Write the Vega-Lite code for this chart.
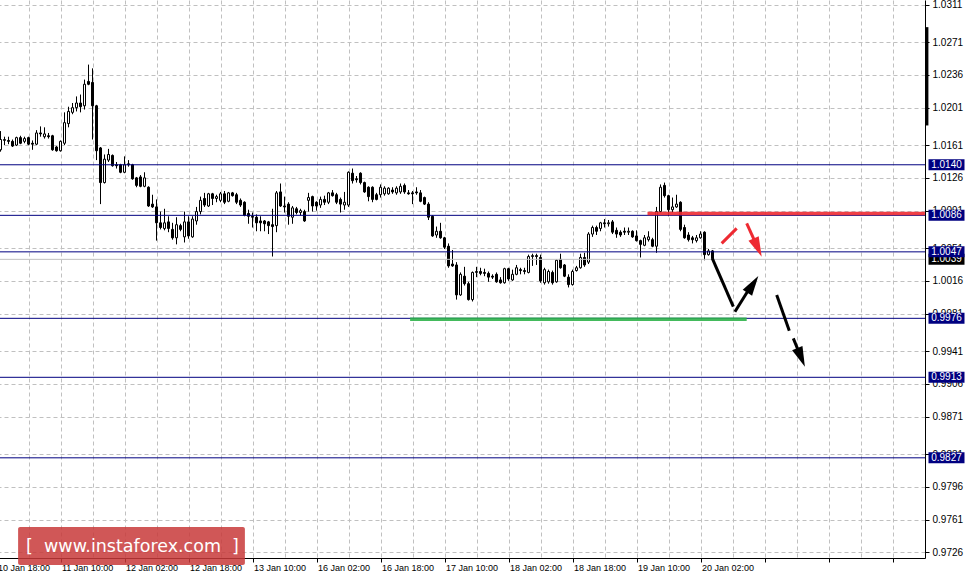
{
 "$schema": "https://vega.github.io/schema/vega-lite/v6.json",
 "width": 929,
 "height": 558,
 "autosize": {"type": "none"},
 "padding": {"left": -4, "top": 0, "right": 44, "bottom": 21},
 "background": "white",
 "config": {"view": {"stroke": null}, "font": "Liberation Sans"},
 "resolve": {"scale": {"color": "independent"}},
 "datasets": {
  "bars": [
   {"i":1,"o":1.0156,"c":1.0167,"h":1.0176,"l":1.0154},
   {"i":2,"o":1.0166,"c":1.0167,"h":1.0170,"l":1.0161},
   {"i":3,"o":1.0166,"c":1.0165,"h":1.0170,"l":1.0162},
   {"i":4,"o":1.0165,"c":1.0160,"h":1.0167,"l":1.0159},
   {"i":5,"o":1.0161,"c":1.0169,"h":1.0170,"l":1.0160},
   {"i":6,"o":1.0169,"c":1.0163,"h":1.0171,"l":1.0162},
   {"i":7,"o":1.0165,"c":1.0168,"h":1.0170,"l":1.0163},
   {"i":8,"o":1.0169,"c":1.0162,"h":1.0170,"l":1.0161},
   {"i":9,"o":1.0163,"c":1.0162,"h":1.0166,"l":1.0156},
   {"i":10,"o":1.0162,"c":1.0174,"h":1.0177,"l":1.0161},
   {"i":11,"o":1.0174,"c":1.0173,"h":1.0181,"l":1.0170},
   {"i":12,"o":1.0170,"c":1.0173,"h":1.0180,"l":1.0168},
   {"i":13,"o":1.0171,"c":1.0170,"h":1.0174,"l":1.0168},
   {"i":14,"o":1.0171,"c":1.0156,"h":1.0172,"l":1.0155},
   {"i":15,"o":1.0159,"c":1.0155,"h":1.0160,"l":1.0154},
   {"i":16,"o":1.0155,"c":1.0165,"h":1.0166,"l":1.0154},
   {"i":17,"o":1.0163,"c":1.0185,"h":1.0196,"l":1.0161},
   {"i":18,"o":1.0184,"c":1.0197,"h":1.0202,"l":1.0180},
   {"i":19,"o":1.0196,"c":1.0201,"h":1.0206,"l":1.0194},
   {"i":20,"o":1.0201,"c":1.0206,"h":1.0213,"l":1.0197},
   {"i":21,"o":1.0206,"c":1.0202,"h":1.0215,"l":1.0196},
   {"i":22,"o":1.0203,"c":1.0226,"h":1.0231,"l":1.0199},
   {"i":23,"o":1.0229,"c":1.0226,"h":1.0247,"l":1.0225},
   {"i":24,"o":1.0228,"c":1.0203,"h":1.0243,"l":1.0167},
   {"i":25,"o":1.0203,"c":1.0155,"h":1.0204,"l":1.0145},
   {"i":26,"o":1.0158,"c":1.0121,"h":1.0159,"l":1.0098},
   {"i":27,"o":1.0121,"c":1.0146,"h":1.0151,"l":1.0120},
   {"i":28,"o":1.0145,"c":1.0151,"h":1.0157,"l":1.0143},
   {"i":29,"o":1.0150,"c":1.0139,"h":1.0151,"l":1.0138},
   {"i":30,"o":1.0140,"c":1.0139,"h":1.0143,"l":1.0136},
   {"i":31,"o":1.0140,"c":1.0132,"h":1.0141,"l":1.0131},
   {"i":32,"o":1.0132,"c":1.0140,"h":1.0149,"l":1.0131},
   {"i":33,"o":1.0141,"c":1.0140,"h":1.0145,"l":1.0138},
   {"i":34,"o":1.0140,"c":1.0125,"h":1.0141,"l":1.0124},
   {"i":35,"o":1.0126,"c":1.0118,"h":1.0127,"l":1.0116},
   {"i":36,"o":1.0127,"c":1.0117,"h":1.0129,"l":1.0116},
   {"i":37,"o":1.0117,"c":1.0126,"h":1.0132,"l":1.0116},
   {"i":38,"o":1.0116,"c":1.0096,"h":1.0117,"l":1.0095},
   {"i":39,"o":1.0098,"c":1.0095,"h":1.0108,"l":1.0094},
   {"i":40,"o":1.0095,"c":1.0078,"h":1.0103,"l":1.0059},
   {"i":41,"o":1.0078,"c":1.0073,"h":1.0090,"l":1.0071},
   {"i":42,"o":1.0072,"c":1.0078,"h":1.0093,"l":1.0070},
   {"i":43,"o":1.0079,"c":1.0072,"h":1.0085,"l":1.0068},
   {"i":44,"o":1.0071,"c":1.0062,"h":1.0078,"l":1.0060},
   {"i":45,"o":1.0062,"c":1.0076,"h":1.0084,"l":1.0055},
   {"i":46,"o":1.0075,"c":1.0071,"h":1.0077,"l":1.0069},
   {"i":47,"o":1.0063,"c":1.0079,"h":1.0090,"l":1.0057},
   {"i":48,"o":1.0079,"c":1.0064,"h":1.0085,"l":1.0061},
   {"i":49,"o":1.0063,"c":1.0082,"h":1.0085,"l":1.0062},
   {"i":50,"o":1.0080,"c":1.0090,"h":1.0095,"l":1.0076},
   {"i":51,"o":1.0090,"c":1.0102,"h":1.0106,"l":1.0087},
   {"i":52,"o":1.0104,"c":1.0097,"h":1.0110,"l":1.0095},
   {"i":53,"o":1.0096,"c":1.0109,"h":1.0110,"l":1.0095},
   {"i":54,"o":1.0109,"c":1.0104,"h":1.0110,"l":1.0097},
   {"i":55,"o":1.0104,"c":1.0106,"h":1.0108,"l":1.0100},
   {"i":56,"o":1.0102,"c":1.0109,"h":1.0111,"l":1.0100},
   {"i":57,"o":1.0109,"c":1.0100,"h":1.0112,"l":1.0098},
   {"i":58,"o":1.0101,"c":1.0110,"h":1.0111,"l":1.0100},
   {"i":59,"o":1.0110,"c":1.0107,"h":1.0111,"l":1.0106},
   {"i":60,"o":1.0108,"c":1.0100,"h":1.0110,"l":1.0098},
   {"i":61,"o":1.0102,"c":1.0097,"h":1.0104,"l":1.0095},
   {"i":62,"o":1.0100,"c":1.0086,"h":1.0101,"l":1.0085},
   {"i":63,"o":1.0088,"c":1.0085,"h":1.0092,"l":1.0077},
   {"i":64,"o":1.0085,"c":1.0084,"h":1.0089,"l":1.0073},
   {"i":65,"o":1.0084,"c":1.0078,"h":1.0087,"l":1.0069},
   {"i":66,"o":1.0080,"c":1.0078,"h":1.0085,"l":1.0069},
   {"i":67,"o":1.0080,"c":1.0077,"h":1.0081,"l":1.0069},
   {"i":68,"o":1.0079,"c":1.0075,"h":1.0080,"l":1.0066},
   {"i":69,"o":1.0076,"c":1.0074,"h":1.0093,"l":1.0042},
   {"i":70,"o":1.0075,"c":1.0110,"h":1.0112,"l":1.0068},
   {"i":71,"o":1.0111,"c":1.0096,"h":1.0120,"l":1.0095},
   {"i":72,"o":1.0096,"c":1.0095,"h":1.0106,"l":1.0089},
   {"i":73,"o":1.0098,"c":1.0085,"h":1.0100,"l":1.0076},
   {"i":74,"o":1.0084,"c":1.0094,"h":1.0096,"l":1.0077},
   {"i":75,"o":1.0093,"c":1.0089,"h":1.0095,"l":1.0087},
   {"i":76,"o":1.0089,"c":1.0091,"h":1.0093,"l":1.0086},
   {"i":77,"o":1.0090,"c":1.0080,"h":1.0092,"l":1.0079},
   {"i":78,"o":1.0102,"c":1.0105,"h":1.0110,"l":1.0090},
   {"i":79,"o":1.0106,"c":1.0096,"h":1.0107,"l":1.0090},
   {"i":80,"o":1.0100,"c":1.0096,"h":1.0101,"l":1.0091},
   {"i":81,"o":1.0097,"c":1.0103,"h":1.0106,"l":1.0094},
   {"i":82,"o":1.0103,"c":1.0100,"h":1.0107,"l":1.0097},
   {"i":83,"o":1.0100,"c":1.0110,"h":1.0111,"l":1.0098},
   {"i":84,"o":1.0110,"c":1.0107,"h":1.0113,"l":1.0106},
   {"i":85,"o":1.0108,"c":1.0100,"h":1.0110,"l":1.0098},
   {"i":86,"o":1.0103,"c":1.0098,"h":1.0105,"l":1.0089},
   {"i":87,"o":1.0097,"c":1.0100,"h":1.0111,"l":1.0092},
   {"i":88,"o":1.0097,"c":1.0132,"h":1.0133,"l":1.0095},
   {"i":89,"o":1.0131,"c":1.0123,"h":1.0136,"l":1.0120},
   {"i":90,"o":1.0125,"c":1.0124,"h":1.0128,"l":1.0121},
   {"i":91,"o":1.0131,"c":1.0121,"h":1.0132,"l":1.0119},
   {"i":92,"o":1.0121,"c":1.0111,"h":1.0122,"l":1.0110},
   {"i":93,"o":1.0116,"c":1.0106,"h":1.0117,"l":1.0101},
   {"i":94,"o":1.0116,"c":1.0103,"h":1.0117,"l":1.0100},
   {"i":95,"o":1.0108,"c":1.0103,"h":1.0110,"l":1.0102},
   {"i":96,"o":1.0108,"c":1.0116,"h":1.0119,"l":1.0105},
   {"i":97,"o":1.0109,"c":1.0115,"h":1.0117,"l":1.0107},
   {"i":98,"o":1.0109,"c":1.0115,"h":1.0116,"l":1.0108},
   {"i":99,"o":1.0113,"c":1.0111,"h":1.0116,"l":1.0109},
   {"i":100,"o":1.0110,"c":1.0115,"h":1.0117,"l":1.0108},
   {"i":101,"o":1.0111,"c":1.0117,"h":1.0120,"l":1.0109},
   {"i":102,"o":1.0118,"c":1.0111,"h":1.0120,"l":1.0109},
   {"i":103,"o":1.0110,"c":1.0109,"h":1.0113,"l":1.0108},
   {"i":104,"o":1.0110,"c":1.0109,"h":1.0112,"l":1.0098},
   {"i":105,"o":1.0111,"c":1.0110,"h":1.0116,"l":1.0108},
   {"i":106,"o":1.0110,"c":1.0101,"h":1.0113,"l":1.0100},
   {"i":107,"o":1.0105,"c":1.0098,"h":1.0106,"l":1.0097},
   {"i":108,"o":1.0098,"c":1.0084,"h":1.0100,"l":1.0081},
   {"i":109,"o":1.0085,"c":1.0064,"h":1.0086,"l":1.0063},
   {"i":110,"o":1.0065,"c":1.0069,"h":1.0074,"l":1.0062},
   {"i":111,"o":1.0069,"c":1.0062,"h":1.0078,"l":1.0061},
   {"i":112,"o":1.0062,"c":1.0052,"h":1.0063,"l":1.0050},
   {"i":113,"o":1.0053,"c":1.0032,"h":1.0056,"l":1.0030},
   {"i":114,"o":1.0034,"c":1.0032,"h":1.0049,"l":1.0031},
   {"i":115,"o":1.0033,"c":1.0001,"h":1.0036,"l":0.9996},
   {"i":116,"o":1.0001,"c":1.0023,"h":1.0025,"l":1.0000},
   {"i":117,"o":1.0021,"c":1.0013,"h":1.0031,"l":1.0011},
   {"i":118,"o":1.0013,"c":0.9996,"h":1.0015,"l":0.9995},
   {"i":119,"o":0.9996,"c":1.0025,"h":1.0026,"l":0.9994},
   {"i":120,"o":1.0025,"c":1.0026,"h":1.0031,"l":1.0020},
   {"i":121,"o":1.0026,"c":1.0024,"h":1.0030,"l":1.0022},
   {"i":122,"o":1.0025,"c":1.0024,"h":1.0029,"l":1.0021},
   {"i":123,"o":1.0024,"c":1.0020,"h":1.0026,"l":1.0015},
   {"i":124,"o":1.0021,"c":1.0020,"h":1.0023,"l":1.0018},
   {"i":125,"o":1.0023,"c":1.0015,"h":1.0025,"l":1.0014},
   {"i":126,"o":1.0017,"c":1.0014,"h":1.0020,"l":1.0013},
   {"i":127,"o":1.0014,"c":1.0029,"h":1.0030,"l":1.0013},
   {"i":128,"o":1.0029,"c":1.0018,"h":1.0030,"l":1.0016},
   {"i":129,"o":1.0017,"c":1.0023,"h":1.0028,"l":1.0016},
   {"i":130,"o":1.0023,"c":1.0030,"h":1.0033,"l":1.0022},
   {"i":131,"o":1.0028,"c":1.0027,"h":1.0030,"l":1.0023},
   {"i":132,"o":1.0027,"c":1.0026,"h":1.0030,"l":1.0023},
   {"i":133,"o":1.0025,"c":1.0042,"h":1.0044,"l":1.0024},
   {"i":134,"o":1.0042,"c":1.0043,"h":1.0045,"l":1.0032},
   {"i":135,"o":1.0043,"c":1.0042,"h":1.0045,"l":1.0033},
   {"i":136,"o":1.0041,"c":1.0016,"h":1.0044,"l":1.0014},
   {"i":137,"o":1.0014,"c":1.0028,"h":1.0030,"l":1.0012},
   {"i":138,"o":1.0015,"c":1.0026,"h":1.0028,"l":1.0013},
   {"i":139,"o":1.0025,"c":1.0014,"h":1.0027,"l":1.0012},
   {"i":140,"o":1.0015,"c":1.0038,"h":1.0039,"l":1.0014},
   {"i":141,"o":1.0039,"c":1.0030,"h":1.0045,"l":1.0029},
   {"i":142,"o":1.0033,"c":1.0021,"h":1.0034,"l":1.0020},
   {"i":143,"o":1.0020,"c":1.0012,"h":1.0023,"l":1.0009},
   {"i":144,"o":1.0012,"c":1.0026,"h":1.0028,"l":1.0011},
   {"i":145,"o":1.0027,"c":1.0030,"h":1.0032,"l":1.0026},
   {"i":146,"o":1.0030,"c":1.0041,"h":1.0045,"l":1.0029},
   {"i":147,"o":1.0041,"c":1.0033,"h":1.0046,"l":1.0031},
   {"i":148,"o":1.0036,"c":1.0066,"h":1.0068,"l":1.0034},
   {"i":149,"o":1.0066,"c":1.0073,"h":1.0075,"l":1.0063},
   {"i":150,"o":1.0073,"c":1.0069,"h":1.0075,"l":1.0065},
   {"i":151,"o":1.0072,"c":1.0078,"h":1.0079,"l":1.0069},
   {"i":152,"o":1.0078,"c":1.0077,"h":1.0082,"l":1.0073},
   {"i":153,"o":1.0077,"c":1.0078,"h":1.0081,"l":1.0074},
   {"i":154,"o":1.0079,"c":1.0068,"h":1.0081,"l":1.0066},
   {"i":155,"o":1.0070,"c":1.0066,"h":1.0073,"l":1.0062},
   {"i":156,"o":1.0068,"c":1.0065,"h":1.0070,"l":1.0063},
   {"i":157,"o":1.0069,"c":1.0068,"h":1.0073,"l":1.0065},
   {"i":158,"o":1.0068,"c":1.0069,"h":1.0073,"l":1.0065},
   {"i":159,"o":1.0069,"c":1.0063,"h":1.0070,"l":1.0062},
   {"i":160,"o":1.0064,"c":1.0059,"h":1.0070,"l":1.0058},
   {"i":161,"o":1.0059,"c":1.0055,"h":1.0060,"l":1.0041},
   {"i":162,"o":1.0054,"c":1.0062,"h":1.0065,"l":1.0053},
   {"i":163,"o":1.0060,"c":1.0063,"h":1.0069,"l":1.0058},
   {"i":164,"o":1.0060,"c":1.0053,"h":1.0062,"l":1.0052},
   {"i":165,"o":1.0053,"c":1.0090,"h":1.0095,"l":1.0046},
   {"i":166,"o":1.0090,"c":1.0116,"h":1.0119,"l":1.0089},
   {"i":167,"o":1.0118,"c":1.0107,"h":1.0121,"l":1.0105},
   {"i":168,"o":1.0107,"c":1.0092,"h":1.0108,"l":1.0085},
   {"i":169,"o":1.0092,"c":1.0095,"h":1.0105,"l":1.0089},
   {"i":170,"o":1.0095,"c":1.0098,"h":1.0108,"l":1.0094},
   {"i":171,"o":1.0100,"c":1.0071,"h":1.0101,"l":1.0069},
   {"i":172,"o":1.0073,"c":1.0062,"h":1.0076,"l":1.0061},
   {"i":173,"o":1.0065,"c":1.0060,"h":1.0068,"l":1.0058},
   {"i":174,"o":1.0062,"c":1.0060,"h":1.0064,"l":1.0056},
   {"i":175,"o":1.0059,"c":1.0062,"h":1.0065,"l":1.0057},
   {"i":176,"o":1.0062,"c":1.0066,"h":1.0069,"l":1.0061},
   {"i":177,"o":1.0068,"c":1.0044,"h":1.0069,"l":1.0038},
   {"i":178,"o":1.0044,"c":1.0048,"h":1.0050,"l":1.0043},
   {"i":179,"o":1.0048,"c":1.0039,"h":1.0049,"l":1.0038}
  ],
  "levels": [{"p":1.0140},{"p":1.0086},{"p":1.0047},{"p":0.9976},{"p":0.9913},{"p":0.9827}],
  "bid": [{"p":1.0039}],
  "zones": [
   {"name":"resistance","i1":162.75,"i2":232.1,"p":1.0088},
   {"name":"support","i1":103.4,"i2":187.55,"p":0.9975}
  ],
  "arrows": [
   {"kind":"alt","i1":181.3,"p1":1.00561,"i2":185.05,"p2":1.00721},
   {"kind":"alt","i1":187.55,"p1":1.00775,"i2":189.9,"p2":1.00553},
   {"kind":"main","i1":178.95,"p1":1.00401,"i2":184.2,"p2":0.99884},
   {"kind":"main","i1":184.6,"p1":0.99830,"i2":189.1,"p2":1.00137},
   {"kind":"main","i1":195.05,"p1":1.00009,"i2":198.2,"p2":0.99627},
   {"kind":"main","i1":199.2,"p1":0.99546,"i2":200.9,"p2":0.99368}
  ],
  "heads": [
   {"id":"alt","i":191.3,"p":1.00418},
   {"id":"up","i":190.45,"p":1.00212},
   {"id":"down","i":202.1,"p":0.99243}
  ]
 },
 "layer": [
  {
   "data": {"name": "bars"},
   "mark": {"type": "rule", "color": "black", "strokeWidth": 1},
   "encoding": {
    "x": {"field": "i", "type": "quantitative",
     "scale": {"domain": [-0.125, 232.125], "nice": false, "zero": false, "padding": 0},
     "axis": {"orient": "bottom", "title": null, "tickCount": 200, "zindex": 0,
      "values": [0,8,16,24,32,40,48,56,64,72,80,88,96,104,112,120,128,136,144,152,160,168,176,184,192,200,208,216,224,232],
      "labelExpr": "(datum.value % 16 === 0 && datum.value <= 176) ? ['10 Jan 18:00','11 Jan 10:00','12 Jan 02:00','12 Jan 18:00','13 Jan 10:00','16 Jan 02:00','16 Jan 18:00','17 Jan 10:00','18 Jan 02:00','18 Jan 18:00','19 Jan 10:00','20 Jan 02:00'][datum.value / 16] : ''",
      "grid": true, "gridColor": "#c0c0c0", "gridDash": [4, 3], "gridWidth": 1, "gridOpacity": 1,
      "domainColor": "black", "domainWidth": 1,
      "tickColor": "black", "tickSize": 4, "tickWidth": 1,
      "tickOpacity": {"condition": {"test": "datum.value % 16 === 0", "value": 1}, "value": 0},
      "labelAlign": "left", "labelBaseline": "top", "labelPadding": 1, "labelOffset": 1,
      "labelFont": "Liberation Sans", "labelFontSize": 9, "labelColor": "black",
      "labelOverlap": false, "labelFlush": false, "labelBound": false}
    },
    "y": {"field": "l", "type": "quantitative",
     "scale": {"domain": [0.9720, 1.0316], "nice": false, "zero": false, "padding": 0},
     "axis": {"orient": "right", "title": null, "tickCount": 200, "zindex": 0,
      "values": [1.0311,1.0271,1.0236,1.0201,1.0161,1.0126,1.0091,1.0051,1.0016,0.9981,0.9941,0.9906,0.9871,0.9831,0.9796,0.9761,0.9726],
      "format": ".4f",
      "grid": true, "gridColor": "#c0c0c0", "gridDash": [4, 3], "gridWidth": 1, "gridOpacity": 1,
      "domainColor": "black", "domainWidth": 1,
      "tickColor": "black", "tickSize": 4, "tickWidth": 1,
      "labelBaseline": "middle", "labelPadding": 3,
      "labelFont": "Liberation Sans", "labelFontSize": 10, "labelColor": "black",
      "labelOverlap": false, "labelFlush": false, "labelBound": false}
    },
    "y2": {"field": "h"}
   }
  },
  {
   "data": {"name": "bars"},
   "mark": {"type": "bar", "width": 2, "stroke": "black", "strokeWidth": 1},
   "encoding": {
    "x": {"field": "i", "type": "quantitative", "axis": {"title": null}},
    "y": {"field": "o", "type": "quantitative", "axis": {"title": null}},
    "y2": {"field": "c"},
    "fill": {"condition": {"test": "datum.c >= datum.o", "value": "white"}, "value": "black"}
   }
  },
  {
   "data": {"name": "bid"},
   "mark": {"type": "rule", "color": "#c0c0c0", "strokeWidth": 1},
   "encoding": {"y": {"field": "p", "type": "quantitative", "axis": {"title": null}}}
  },
  {
   "data": {"name": "levels"},
   "mark": {"type": "rule", "color": "#000080", "strokeWidth": 1},
   "encoding": {"y": {"field": "p", "type": "quantitative", "axis": {"title": null}}}
  },
  {
   "data": {"name": "zones"},
   "mark": {"type": "rule", "strokeWidth": 3.5, "opacity": 0.9},
   "encoding": {
    "x": {"field": "i1", "type": "quantitative", "axis": {"title": null}},
    "x2": {"field": "i2"},
    "y": {"field": "p", "type": "quantitative", "axis": {"title": null}},
    "color": {"field": "name", "type": "nominal", "legend": null,
     "scale": {"domain": ["resistance", "support"], "range": ["#ee2a32", "#2fb34a"]}}
   }
  },
  {
   "data": {"name": "arrows"},
   "mark": {"type": "rule", "strokeWidth": 3, "strokeCap": "butt"},
   "encoding": {
    "x": {"field": "i1", "type": "quantitative", "axis": {"title": null}},
    "x2": {"field": "i2"},
    "y": {"field": "p1", "type": "quantitative", "axis": {"title": null}},
    "y2": {"field": "p2"},
    "color": {"field": "kind", "type": "nominal", "legend": null,
     "scale": {"domain": ["alt", "main"], "range": ["#ee2a32", "#000000"]}}
   }
  },
  {
   "data": {"name": "heads"},
   "transform": [{"filter": "datum.id === 'alt'"}],
   "mark": {"type": "point", "shape": "M0,0L0.28,1L-0.28,1Z", "size": 1600, "filled": true, "opacity": 1, "color": "#ee2a32", "angle": 156},
   "encoding": {
    "x": {"field": "i", "type": "quantitative", "axis": {"title": null}},
    "y": {"field": "p", "type": "quantitative", "axis": {"title": null}}
   }
  },
  {
   "data": {"name": "heads"},
   "transform": [{"filter": "datum.id === 'up'"}],
   "mark": {"type": "point", "shape": "M0,0L0.28,1L-0.28,1Z", "size": 1600, "filled": true, "opacity": 1, "color": "#000000", "angle": 33},
   "encoding": {
    "x": {"field": "i", "type": "quantitative", "axis": {"title": null}},
    "y": {"field": "p", "type": "quantitative", "axis": {"title": null}}
   }
  },
  {
   "data": {"name": "heads"},
   "transform": [{"filter": "datum.id === 'down'"}],
   "mark": {"type": "point", "shape": "M0,0L0.28,1L-0.28,1Z", "size": 1600, "filled": true, "opacity": 1, "color": "#000000", "angle": 157.6},
   "encoding": {
    "x": {"field": "i", "type": "quantitative", "axis": {"title": null}},
    "y": {"field": "p", "type": "quantitative", "axis": {"title": null}}
   }
  },
  {
   "data": {"values": [{"top": 1.0287, "bottom": 1.0182}]},
   "mark": {"type": "rule", "color": "black", "strokeWidth": 3},
   "encoding": {
    "x": {"datum": 232.6, "type": "quantitative", "axis": {"title": null}},
    "y": {"field": "top", "type": "quantitative", "axis": {"title": null}},
    "y2": {"field": "bottom"}
   }
  },
  {
   "data": {"name": "bid"},
   "mark": {"type": "tick", "orient": "horizontal", "color": "black", "size": 36, "thickness": 11, "opacity": 1},
   "encoding": {
    "x": {"datum": 237.5, "type": "quantitative", "axis": {"title": null}},
    "y": {"field": "p", "type": "quantitative", "axis": {"title": null}}
   }
  },
  {
   "data": {"name": "bid"},
   "mark": {"type": "text", "color": "white", "font": "Liberation Sans", "fontSize": 10, "align": "center", "baseline": "middle"},
   "encoding": {
    "x": {"datum": 237.5, "type": "quantitative", "axis": {"title": null}},
    "y": {"field": "p", "type": "quantitative", "axis": {"title": null}},
    "text": {"field": "p", "type": "quantitative", "format": ".4f"}
   }
  },
  {
   "data": {"name": "levels"},
   "mark": {"type": "tick", "orient": "horizontal", "color": "#000080", "size": 36, "thickness": 11, "opacity": 1},
   "encoding": {
    "x": {"datum": 237.5, "type": "quantitative", "axis": {"title": null}},
    "y": {"field": "p", "type": "quantitative", "axis": {"title": null}}
   }
  },
  {
   "data": {"name": "levels"},
   "mark": {"type": "text", "color": "white", "font": "Liberation Sans", "fontSize": 10, "align": "center", "baseline": "middle"},
   "encoding": {
    "x": {"datum": 237.5, "type": "quantitative", "axis": {"title": null}},
    "y": {"field": "p", "type": "quantitative", "axis": {"title": null}},
    "text": {"field": "p", "type": "quantitative", "format": ".4f"}
   }
  },
  {
   "data": {"values": [{"label": "[\u00a0 www.instaforex.com \u00a0]"}]},
   "mark": {"type": "rect", "color": "#c83a3a", "opacity": 0.85, "cornerRadius": 2},
   "encoding": {
    "x": {"datum": 5.4, "type": "quantitative", "axis": {"title": null}},
    "x2": {"datum": 62.1},
    "y": {"datum": 0.9753, "type": "quantitative", "axis": {"title": null}},
    "y2": {"datum": 0.97124}
   }
  },
  {
   "data": {"values": [{"label": "[\u00a0 www.instaforex.com \u00a0]"}]},
   "mark": {"type": "text", "color": "white", "font": "DejaVu Sans", "fontSize": 17.5, "align": "center", "baseline": "middle"},
   "encoding": {
    "x": {"datum": 34.0, "type": "quantitative", "axis": {"title": null}},
    "y": {"datum": 0.97315, "type": "quantitative", "axis": {"title": null}},
    "text": {"field": "label", "type": "nominal"}
   }
  }
 ]
}
